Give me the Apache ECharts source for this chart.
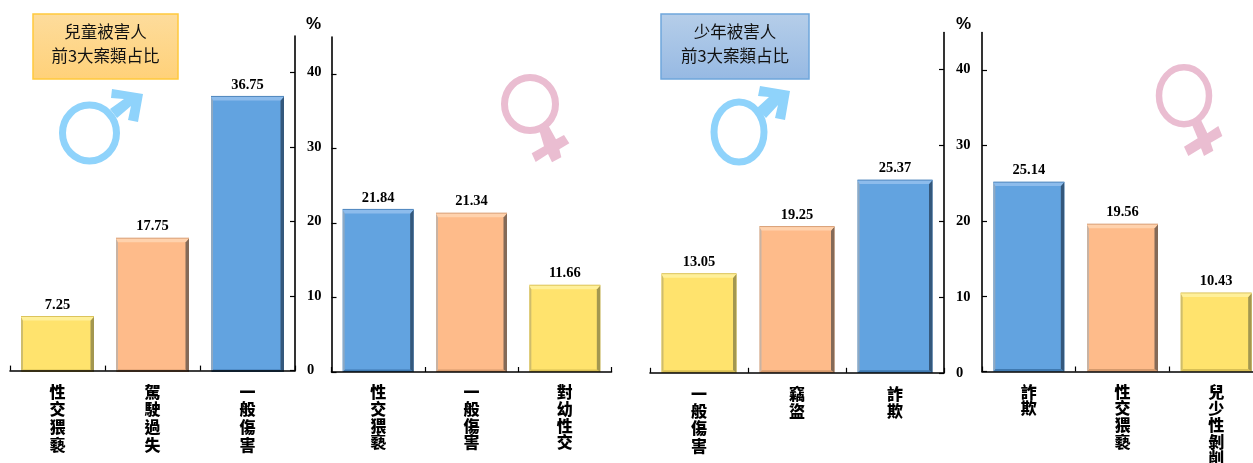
<!DOCTYPE html>
<html><head><meta charset="utf-8">
<style>html,body{margin:0;padding:0;background:#fff}#c{width:1253px;height:463px}</style>
<script src="https://cdn.jsdelivr.net/npm/echarts@6/dist/echarts.min.js"></script>
</head><body><div id="c"></div>
<script>
// ---- data ----
const categoriesChildMale = ['性交猥褻', '駕駛過失', '一般傷害'];
const valuesChildMale = [7.25, 17.75, 36.75];
const categoriesChildFemale = ['性交猥褻', '一般傷害', '對幼性交'];
const valuesChildFemale = [21.84, 21.34, 11.66];
const categoriesYouthMale = ['一般傷害', '竊盜', '詐欺'];
const valuesYouthMale = [13.05, 19.25, 25.37];
const categoriesYouthFemale = ['詐欺', '性交猥褻', '兒少性剝削'];
const valuesYouthFemale = [25.14, 19.56, 10.43];
const yTicks = [0, 10, 20, 30, 40];

// ---- layout & style ----
const panels = [
  {cats: categoriesChildMale, vals: valuesChildMale, left: 10, width: 285, top: 36, zero: 370.6, max: 44.85, side: 'right', barW: 73, over: 1.5, lh: 17.8},
  {cats: categoriesChildFemale, vals: valuesChildFemale, left: 331.5, width: 280, top: 37, zero: 372, max: 45, side: 'left', barW: 71, over: 0, lh: 16.6},
  {cats: categoriesYouthMale, vals: valuesYouthMale, left: 650, width: 294, top: 32.5, zero: 372.8, max: 44.8, side: 'right', barW: 75, over: 0, lh: 17.4},
  {cats: categoriesYouthFemale, vals: valuesYouthFemale, left: 982, width: 281, top: 32.5, zero: 371.5, max: 45, side: 'left', barW: 71, over: 0, lh: 16.6}
];
const skins = {
  blue:   {main: '#62a3e0', top: '#8dbcec', edge: '#4f86bd', left: '#8fa9c2', right: '#34587c', bottom: '#3f79b0'},
  orange: {main: '#febb8a', top: '#ffd2ad', edge: '#d9a078', left: '#c9b3a3', right: '#846a58', bottom: '#d59a6d'},
  yellow: {main: '#ffe36d', top: '#fff09a', edge: '#dcc45c', left: '#cfbd6c', right: '#a39750', bottom: '#d8bf55'}
};
const skinOrder = ['yellow', 'orange', 'blue'];
function skinOf(vals, v) {
  const sorted = vals.slice().sort((a, b) => a - b);
  return skins[skinOrder[sorted.indexOf(v)]];
}
const serif = '"Liberation Serif", serif';
const cjk = '"Noto Sans CJK TC", sans-serif';

const grid = [], xAxis = [], yAxis = [], series = [];
panels.forEach((p, k) => {
  grid.push({left: p.left, width: p.width, top: p.top, height: p.zero - p.top, outerBoundsMode: 'none', containLabel: false});
  xAxis.push({
    type: 'category', gridIndex: k, data: p.cats, z: 10,
    axisLine: {onZero: false, lineStyle: {color: '#000', width: 1.6}},
    axisTick: {show: true, inside: true, length: 5, lineStyle: {color: '#000', width: 1.2}},
    axisLabel: {
      interval: 0, margin: 12, color: '#000', fontFamily: cjk, fontWeight: 900,
      fontSize: 16, lineHeight: p.lh, verticalAlign: 'top',
      formatter: s => s.split('').join('\n')
    }
  });
  yAxis.push({
    type: 'value', gridIndex: k, min: 0, max: p.max, position: p.side, z: 10,
    splitLine: {show: false},
    axisLine: {show: true, lineStyle: {color: '#000', width: 1.6}},
    axisTick: {show: true, inside: true, length: 5, customValues: yTicks, lineStyle: {color: '#000', width: 1.2}},
    axisLabel: {
      show: p.side === 'right', inside: false, margin: 12, color: '#000',
      fontFamily: serif, fontWeight: 'bold', fontSize: 14.5, customValues: yTicks
    }
  });
  series.push({
    type: 'bar', xAxisIndex: k, yAxisIndex: k, barWidth: p.barW, z: 2,
    data: p.vals.map(v => ({value: v, itemStyle: {color: skinOf(p.vals, v).main}})),
    label: {show: true, position: 'top', distance: 4, color: '#000', fontFamily: serif, fontWeight: 'bold', fontSize: 14.5,
      formatter: o => o.value.toFixed(2)}
  });
  series.push({
    type: 'custom', xAxisIndex: k, yAxisIndex: k, z: 3, silent: true,
    data: p.vals.map((v, i) => [i, v]),
    renderItem: (params, api) => {
      const i = api.value(0), v = api.value(1);
      const s = skinOf(p.vals, v);
      const t = api.coord([i, v]), b = api.coord([i, 0]);
      const x0 = t[0] - p.barW / 2, x1 = t[0] + p.barW / 2, y0 = t[1], y1 = b[1] + p.over;
      const dT = 4, dB = 2.5, sL = 2, sR = 3.5;
      const poly = (points, fill) => ({type: 'polygon', shape: {points}, style: {fill}});
      return {type: 'group', children: [
        poly([[x0, y1], [x1, y1], [x1 - sR, y1 - dB], [x0 + sL, y1 - dB]], s.bottom),
        poly([[x0, y0], [x0 + sL, y0 + dT], [x0 + sL, y1 - dB], [x0, y1]], s.left),
        poly([[x1, y0], [x1 - sR, y0 + dT], [x1 - sR, y1 - dB], [x1, y1]], s.right),
        poly([[x0, y0], [x1, y0], [x1 - sR, y0 + dT], [x0 + sL, y0 + dT]], s.top),
        {type: 'line', shape: {x1: x0, y1: y0, x2: x1, y2: y0}, style: {stroke: s.edge, lineWidth: 1}}
      ]};
    }
  });
});

function titleBox(x, y, w, h, c0, c1, border, line1, line2) {
  return [
    {type: 'rect', shape: {x, y, width: w, height: h},
     style: {fill: new echarts.graphic.LinearGradient(0, 0, 0, 1, [{offset: 0, color: c0}, {offset: 1, color: c1}]), stroke: border, lineWidth: 1.5}},
    {type: 'text', x: x + w / 2, y: y + h / 2 - 3, style: {text: line1 + '\n' + line2, fill: '#111', font: '400 16.5px ' + cjk, lineHeight: 24, align: 'center', verticalAlign: 'middle'}}
  ];
}
const toPts = (list, ox, oy) => list.map(q => [q[0] / 3 + ox, q[1] / 3 + oy]);
const maleBlue = '#8fd3fb', femalePink = '#eabdd1';
function ring(cx, cy, rx, ry, color, w) {
  return {type: 'ellipse', shape: {cx, cy, rx, ry}, style: {fill: 'none', stroke: color, lineWidth: w}};
}
const pct = x => ({type: 'text', x, y: 24, style: {text: '%', fill: '#000', font: 'bold 17px "Liberation Sans", sans-serif', align: 'left', verticalAlign: 'middle'}});
const graphic = [
  ...titleBox(33, 14, 145, 65, '#fddc9c', '#ffd179', '#ffc93c', '兒童被害人', '前3大案類占比'),
  ...titleBox(661, 14, 148, 65, '#b6cee9', '#96b9e3', '#6fa6dc', '少年被害人', '前3大案類占比'),
  pct(306), pct(956),
  ring(89.5, 133, 27, 28, maleBlue, 7),
  {type: 'polygon', shape: {points: [[112, 89], [143, 94], [138, 122], [128, 120], [131, 106], [117, 118], [110, 109], [124, 99], [111, 98]]}, style: {fill: maleBlue}},
  ring(739, 132, 25, 30, maleBlue, 7),
  {type: 'polygon', shape: {points: [[760, 86], [790, 91], [785, 120], [775, 118], [778, 105], [766, 118], [757, 108], [769, 97], [758, 96]]}, style: {fill: maleBlue}},
  ring(530, 104, 25.5, 26.5, femalePink, 7),
  {type: 'polygon', shape: {points: toPts([[806, 385], [836, 378], [858, 418], [882, 405], [898, 430], [868, 448], [874, 472], [846, 487], [834, 462], [797, 486], [785, 460], [822, 439]], 270, 0)}, style: {fill: femalePink}},
  ring(1184, 95.7, 25, 28.5, femalePink, 6.5),
  {type: 'polygon', shape: {points: toPts([[275, 252], [303, 240], [322, 280], [355, 258], [367, 288], [332, 308], [340, 332], [312, 348], [303, 325], [265, 348], [252, 320], [293, 295]], 1100, 40)}, style: {fill: femalePink}}
];

const chart = echarts.init(document.getElementById('c'), null, {renderer: 'canvas'});
chart.setOption({animation: false, backgroundColor: '#fff', grid, xAxis, yAxis, series, graphic});
</script></body></html>
